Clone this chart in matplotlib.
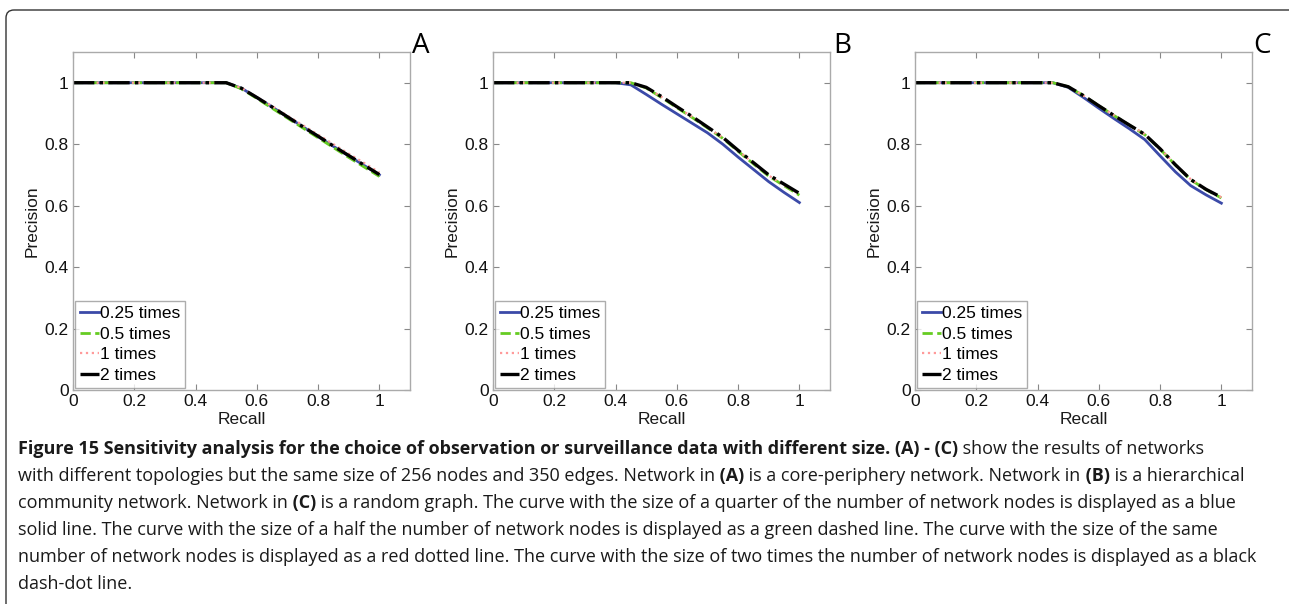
import matplotlib
matplotlib.use('Agg')
import matplotlib.pyplot as plt
from matplotlib.path import Path
from matplotlib.patches import PathPatch

# recall grid shared by all curves
recall = [0, 0.2, 0.4, 0.45, 0.5, 0.55, 0.6, 0.65, 0.7, 0.75, 0.8, 0.85, 0.9, 0.95, 1.0]

# panel A: core-periphery network
a_025 = [1, 1, 1, 1, 1.0, 0.982, 0.952, 0.921, 0.889, 0.857, 0.825, 0.793, 0.762, 0.731, 0.700]
a_05 = [1, 1, 1, 1, 1.0, 0.980, 0.949, 0.917, 0.885, 0.853, 0.821, 0.789, 0.757, 0.726, 0.695]
a_1 = [1, 1, 1, 1, 1.0, 0.983, 0.954, 0.924, 0.893, 0.862, 0.831, 0.800, 0.769, 0.739, 0.708]
a_2 = [1, 1, 1, 1, 1.0, 0.982, 0.952, 0.921, 0.889, 0.857, 0.826, 0.794, 0.763, 0.732, 0.701]

# panel B: hierarchical community network
b_025 = [1, 1, 1, 0.993, 0.962, 0.930, 0.899, 0.868, 0.837, 0.800, 0.758, 0.718, 0.678, 0.643, 0.610]
b_05 = [1, 1, 1, 1.0, 0.983, 0.952, 0.919, 0.887, 0.853, 0.819, 0.777, 0.736, 0.696, 0.665, 0.634]
b_1 = [1, 1, 1, 1.0, 0.984, 0.954, 0.921, 0.889, 0.855, 0.821, 0.779, 0.738, 0.698, 0.667, 0.637]
b_2 = [1, 1, 1, 1.0, 0.985, 0.955, 0.922, 0.890, 0.856, 0.822, 0.780, 0.740, 0.700, 0.670, 0.640]

# panel C: random graph
c_025 = [1, 1, 1, 1.0, 0.985, 0.952, 0.917, 0.883, 0.850, 0.815, 0.762, 0.710, 0.665, 0.635, 0.608]
c_05 = [1, 1, 1, 1.0, 0.987, 0.958, 0.925, 0.893, 0.862, 0.831, 0.784, 0.732, 0.684, 0.652, 0.625]
c_1 = [1, 1, 1, 1.0, 0.987, 0.958, 0.926, 0.894, 0.863, 0.833, 0.786, 0.734, 0.686, 0.654, 0.627]
c_2 = [1, 1, 1, 1.0, 0.987, 0.958, 0.925, 0.893, 0.862, 0.832, 0.785, 0.733, 0.685, 0.653, 0.627]

panels = [('A', [a_025, a_05, a_1, a_2]),
          ('B', [b_025, b_05, b_1, b_2]),
          ('C', [c_025, c_05, c_1, c_2])]
legend_labels = ['0.25 times', '0.5 times', '1 times', '2 times']
ticks = [0, 0.2, 0.4, 0.6, 0.8, 1]
tick_labels = ['0', '0.2', '0.4', '0.6', '0.8', '1']

W, H = 1289, 604
fig = plt.figure(figsize=(W / 100, H / 100), dpi=100)
plt.rcParams['font.family'] = ['Liberation Sans', 'DejaVu Sans']


def fx(px):
    return px / W


def fy(py):
    return 1 - py / H


styles = [dict(color='#3b4aa8', ls='-', lw=2.0),
          dict(color='#66cc22', ls='--', lw=2.0),
          dict(color='#ff9a9a', ls=':', lw=1.6),
          dict(color='black', ls='-.', lw=2.4)]

axes_left = [73, 493, 915]
label_x = [412, 833, 1253]
for (name, series), left, lx in zip(panels, axes_left, label_x):
    ax = fig.add_axes([fx(left), fy(390), 337 / W, fy(52) - fy(390)])
    for ys, st, lab in zip(series, styles, legend_labels):
        ax.plot(recall, ys, label=lab, **st)
    ax.set_xlim(0, 1.1)
    ax.set_ylim(0, 1.1)
    ax.set_xticks(ticks)
    ax.set_xticklabels(tick_labels)
    ax.set_yticks(ticks)
    ax.set_yticklabels(tick_labels)
    ax.tick_params(direction='in', length=4, width=0.8, color='#888888',
                   top=True, right=True, labelsize=12.5, pad=3,
                   labelcolor='#111111')
    for s in ax.spines.values():
        s.set_color('#aaaaaa')
        s.set_linewidth(1.0)
    ax.set_xlabel('Recall', fontsize=12.5, labelpad=2, color='#1a1a1a')
    ax.set_ylabel('Precision', fontsize=12.5, labelpad=4, color='#1a1a1a')
    leg = ax.legend(loc='lower left', fontsize=12.5, handlelength=1.1,
                    handletextpad=0.05, borderpad=0.3, labelspacing=0.32,
                    borderaxespad=0.1, frameon=True, fancybox=False)
    leg.get_frame().set_edgecolor('#999999')
    leg.get_frame().set_linewidth(1.0)
    fig.text(fx(lx), fy(53), name, fontsize=20, family='Open Sans',
             ha='left', va='baseline')

# open frame: top and left edges with a rounded corner
r = 8
verts = [(fx(W), fy(10)), (fx(6 + r), fy(10)), (fx(6), fy(10)), (fx(6), fy(10 + r)),
         (fx(6), fy(H))]
codes = [Path.MOVETO, Path.LINETO, Path.CURVE3, Path.CURVE3, Path.LINETO]
fig.add_artist(PathPatch(Path(verts, codes), transform=fig.transFigure,
                         fill=False, edgecolor='#333333', lw=1.0))

# caption with bold runs
caption = [
    [('Figure 15 Sensitivity analysis for the choice of observation or surveillance data with different size. (A) - (C)', True),
     (' show the results of networks', False)],
    [('with different topologies but the same size of 256 nodes and 350 edges. Network in', False),
     (' (A)', True), (' is a core-periphery network. Network in', False), (' (B)', True),
     (' is a hierarchical', False)],
    [('community network. Network in', False), (' (C)', True),
     (' is a random graph. The curve with the size of a quarter of the number of network nodes is displayed as a blue', False)],
    [('solid line. The curve with the size of a half the number of network nodes is displayed as a green dashed line. The curve with the size of the same', False)],
    [('number of network nodes is displayed as a red dotted line. The curve with the size of two times the number of network nodes is displayed as a black', False)],
    [('dash-dot line.', False)],
]
CAP_SIZE = 12.95
renderer = fig.canvas.get_renderer()
base = 454
for i, runs in enumerate(caption):
    x = 18
    for txt, bold in runs:
        t = fig.text(fx(x), fy(base + 27 * i), txt, fontsize=CAP_SIZE, family='Open Sans',
                     fontweight='bold' if bold else 'normal', ha='left', va='baseline',
                     color='#1a1a1a')
        x += t.get_window_extent(renderer=renderer).width

fig.savefig('out.png', dpi=100)
